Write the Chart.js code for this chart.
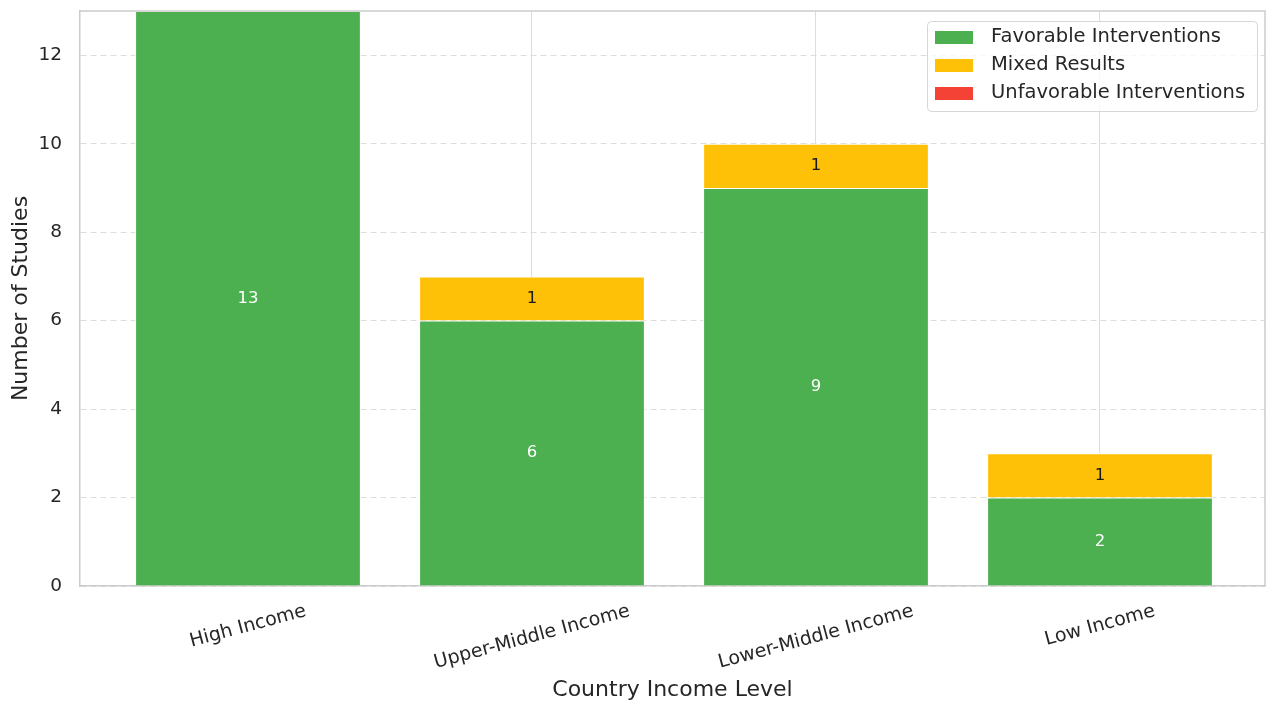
<!DOCTYPE html>
<html>
<head>
<meta charset="utf-8">
<title>Studies by Country Income Level</title>
<script src="https://cdn.jsdelivr.net/npm/chart.js@4.4.0/dist/chart.umd.min.js"></script>
<style>
    body { margin: 0; background: #ffffff; }
    #wrap { width: 1266px; height: 705px; }
</style>
</head>
<body>
<div id="wrap"><canvas id="studiesChart" width="1266" height="705"></canvas></div>
<script>
// Values
const incomeLevels = ['High Income', 'Upper-Middle Income', 'Lower-Middle Income', 'Low Income'];
const favorable = [13, 6, 9, 2];
const mixed = [0, 1, 1, 1];
const unfavorable = [0, 0, 0, 0];
const yTicks = [0, 2, 4, 6, 8, 10, 12];
const yMax = 13;

const FONT = "'DejaVu Sans', sans-serif";
const TEXT = '#262626';
const GREEN = '#4caf50';
const YELLOW = '#ffc107';
const RED = '#f44336';

// Build {x, y} points so the bars sit on a linear x scale
function toPoints(values) {
    return values.map((v, i) => ({ x: i, y: v }));
}

const seriesList = [
    { label: 'Favorable Interventions', values: favorable, color: GREEN, textColor: '#ffffff' },
    { label: 'Mixed Results', values: mixed, color: YELLOW, textColor: '#1a1a1a' },
    { label: 'Unfavorable Interventions', values: unfavorable, color: RED, textColor: '#ffffff' }
];

// Labels inside bars, rotated x tick labels, extra spines and the legend box
const decorPlugin = {
    id: 'decor',
    afterDatasetsDraw(chart) {
        const ctx = chart.ctx;
        ctx.save();
        ctx.font = '16.5px ' + FONT;
        ctx.textAlign = 'center';
        ctx.textBaseline = 'middle';
        chart.data.datasets.forEach((ds, di) => {
            const meta = chart.getDatasetMeta(di);
            meta.data.forEach((bar, i) => {
                const v = ds.data[i].y;
                if (v > 0) {
                    ctx.fillStyle = seriesList[di].textColor;
                    ctx.fillText(String(v), bar.x, (bar.y + bar.base) / 2);
                }
            });
        });
        ctx.restore();
    },
    afterDraw(chart) {
        const ctx = chart.ctx;
        const area = chart.chartArea;
        const xScale = chart.scales.x;

        // top and right spines
        ctx.save();
        ctx.strokeStyle = '#cccccc';
        ctx.lineWidth = 1.5;
        ctx.beginPath();
        ctx.moveTo(area.left, area.top);
        ctx.lineTo(area.right, area.top);
        ctx.lineTo(area.right, area.bottom);
        ctx.stroke();
        ctx.restore();

        // x tick labels, rotated 15 degrees and centred on the tick
        const rot = 15 * Math.PI / 180;
        ctx.save();
        ctx.font = '19px ' + FONT;
        ctx.fillStyle = TEXT;
        ctx.textAlign = 'center';
        ctx.textBaseline = 'middle';
        incomeLevels.forEach((name, i) => {
            const w = ctx.measureText(name).width;
            const cx = xScale.getPixelForValue(i);
            const cy = area.bottom + 25 + w * Math.sin(rot) / 2;
            ctx.save();
            ctx.translate(cx, cy);
            ctx.rotate(-rot);
            ctx.fillText(name, 0, 0);
            ctx.restore();
        });
        ctx.restore();

        // legend
        const box = { x: 927, y: 21, w: 330, h: 90 };
        ctx.save();
        ctx.fillStyle = 'rgba(255,255,255,0.8)';
        ctx.strokeStyle = '#d6d6d6';
        ctx.lineWidth = 1;
        ctx.beginPath();
        ctx.roundRect(box.x + 0.5, box.y + 0.5, box.w, box.h, 4);
        ctx.fill();
        ctx.stroke();
        ctx.font = '19.5px ' + FONT;
        ctx.textAlign = 'left';
        ctx.textBaseline = 'middle';
        seriesList.forEach((s, i) => {
            const rowY = 37 + i * 28;
            ctx.fillStyle = s.color;
            ctx.fillRect(935, rowY - 6, 38, 13);
            ctx.fillStyle = TEXT;
            ctx.fillText(s.label, 991, rowY);
        });
        ctx.restore();
    }
};

const ctx = document.getElementById('studiesChart').getContext('2d');

new Chart(ctx, {
    type: 'bar',
    data: {
        datasets: seriesList.map(s => ({
            label: s.label,
            data: toPoints(s.values),
            backgroundColor: s.color,
            borderColor: '#ffffff',
            borderWidth: 1,
            categoryPercentage: 1,
            barPercentage: 0.795
        }))
    },
    options: {
        responsive: false,
        animation: false,
        layout: {
            padding: { top: 11, right: 1, left: 0, bottom: 0 }
        },
        scales: {
            x: {
                type: 'linear',
                stacked: true,
                offset: false,
                min: -0.5915,
                max: 3.581,
                afterBuildTicks: scale => {
                    scale.ticks = incomeLevels.map((_, i) => ({ value: i }));
                },
                afterFit: scale => {
                    scale.height = 119;
                    scale.paddingLeft = 0;
                    scale.paddingRight = 0;
                },
                ticks: { display: false },
                grid: { color: '#dddddd', lineWidth: 1, drawTicks: false, offset: false },
                border: { color: '#cccccc', width: 1.5 },
                title: {
                    display: true,
                    text: 'Country Income Level',
                    color: TEXT,
                    font: { family: FONT, size: 22 },
                    padding: { top: 0, bottom: 2 }
                }
            },
            y: {
                stacked: true,
                min: 0,
                max: yMax,
                afterBuildTicks: scale => {
                    scale.ticks = yTicks.map(v => ({ value: v }));
                },
                afterFit: scale => {
                    scale.width = 80;
                    scale.paddingTop = 0;
                    scale.paddingBottom = 0;
                },
                ticks: {
                    color: TEXT,
                    font: { family: FONT, size: 18.5 },
                    padding: 18
                },
                grid: { color: '#dddddd', lineWidth: 1, drawTicks: false },
                border: { color: '#cccccc', width: 1.5, dash: [6, 4] },
                title: {
                    display: true,
                    text: 'Number of Studies',
                    color: TEXT,
                    font: { family: FONT, size: 22 },
                    padding: { top: 8, bottom: 0 }
                }
            }
        },
        plugins: {
            legend: { display: false },
            tooltip: { enabled: false }
        }
    },
    plugins: [decorPlugin]
});
</script>
</body>
</html>
